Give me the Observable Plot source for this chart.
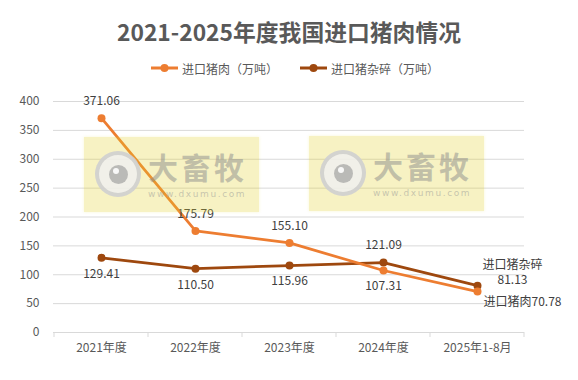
<!DOCTYPE html>
<html><head><meta charset="utf-8">
<script src="https://cdn.jsdelivr.net/npm/d3@7"></script>
<script src="https://cdn.jsdelivr.net/npm/@observablehq/plot@0.6"></script>
<style>
body{margin:0;background:#fff;font-family:"Noto Sans CJK SC","Noto Sans",sans-serif;}
#wrap{position:relative;width:578px;height:380px;overflow:hidden;background:#fff}
#title{height:46px;padding-top:10px;line-height:44px;text-align:center;font-size:22.8px;font-weight:bold;color:#595959;}
#legend{height:24px;display:flex;justify-content:center;align-items:center;font-size:12px;color:#595959;gap:22px;padding-left:12px}
#legend .item{display:flex;align-items:center;gap:4px}
#chart svg{display:block}
.wm{position:absolute;width:175px;height:75px;background:rgba(225,210,40,0.28);box-shadow:0 0 3px rgba(225,210,40,0.2);z-index:5;pointer-events:none}
.wm .ring{position:absolute;left:11px;top:14px;width:38px;height:38px;border-radius:50%;border:4px solid rgba(185,185,185,0.55);background:rgba(240,240,240,0.85)}
.wm .eye{position:absolute;left:10px;top:10px;width:19px;height:19px;border-radius:50%;background:rgba(150,150,150,0.6)}
.wm .hl{position:absolute;left:4px;top:3px;width:6px;height:6px;border-radius:50%;background:rgba(255,255,255,0.9)}
.wm .big{position:absolute;left:64px;top:14px;font-size:30px;font-weight:bold;line-height:30px;color:rgba(140,140,140,0.5);letter-spacing:3px;white-space:nowrap}
.wm .url{position:absolute;left:64px;top:52px;font-family:"DejaVu Sans",sans-serif;font-size:9px;line-height:11px;color:rgba(150,150,150,0.5);letter-spacing:1.6px;white-space:nowrap}
</style></head><body>
<div id="wrap">
  <div id="title"></div>
  <div id="legend"></div>
  <div id="chart"></div>
</div>
<script>
// ---- data ----
const chartTitle = "2021-2025年度我国进口猪肉情况";
const categories = ["2021年度", "2022年度", "2023年度", "2024年度", "2025年1-8月"];
const porkValues = [371.06, 175.79, 155.10, 107.31, 70.78];
const offalValues = [129.41, 110.50, 115.96, 121.09, 81.13];
const seriesNames = ["进口猪肉（万吨）", "进口猪杂碎（万吨）"];
const seriesShort = ["进口猪肉", "进口猪杂碎"];
const yTicks = [0, 50, 100, 150, 200, 250, 300, 350, 400];
const watermarkText = ["大畜牧", "www.dxumu.com"];

// ---- styling ----
const colors = ["#ED7D31", "#9E480E"];
const porkPlacement = ["above", "above", "above", "below", "right"];
const offalPlacement = ["below", "below", "below", "above", "stack"];
const fontFamily = '"Noto Sans CJK SC","Noto Sans",sans-serif';

document.getElementById("title").textContent = chartTitle;

// legend
const legend = document.getElementById("legend");
seriesNames.forEach((name, i) => {
  const item = document.createElement("div");
  item.className = "item";
  item.innerHTML = `<svg width="27" height="10"><line x1="0" x2="27" y1="5" y2="5" stroke="${colors[i]}" stroke-width="3"/><circle cx="13.5" cy="5" r="4" fill="${colors[i]}"/></svg><span>${name}</span>`;
  legend.appendChild(item);
});

const rows = [];
categories.forEach((c, i) => {
  rows.push({cat: c, v: porkValues[i], s: 0, place: porkPlacement[i]});
  rows.push({cat: c, v: offalValues[i], s: 1, place: offalPlacement[i]});
});
const fmt = v => v.toFixed(2);
const pork = rows.filter(d => d.s === 0);
const offal = rows.filter(d => d.s === 1);

function xAxisTicks(index, scales) {
  const x = scales.x, y = scales.y;
  const step = x(categories[1]) - x(categories[0]);
  const edges = categories.map(c => x(c) - step / 2).concat([x(categories[categories.length - 1]) + step / 2]);
  const y0 = y(0);
  const g = d3.create("svg:g").attr("stroke", "#d9d9d9").attr("stroke-width", 1);
  g.selectAll("line").data(edges).join("line")
    .attr("x1", d => d).attr("x2", d => d).attr("y1", y0).attr("y2", y0 + 5);
  return g.node();
}

const labelStyle = {fill: "#404040", fontSize: 12, fontFamily};
const plot = Plot.plot({
  width: 578,
  height: 300,
  marginTop: 21,
  marginBottom: 48,
  marginLeft: 53,
  marginRight: 54,
  style: {fontFamily, fontSize: "12px", color: "#595959", background: "transparent", overflow: "visible"},
  x: {type: "point", domain: categories, padding: 0.5, label: null, tickSize: 0, tickPadding: 11},
  y: {domain: [0, 400], ticks: yTicks, label: null, tickSize: 0, tickPadding: 14, tickFormat: d => String(d)},
  marks: [
    Plot.ruleY(yTicks, {stroke: "#d9d9d9", strokeWidth: 1}),
    xAxisTicks,
    Plot.lineY(offal, {x: "cat", y: "v", stroke: colors[1], strokeWidth: 2.75}),
    Plot.lineY(pork, {x: "cat", y: "v", stroke: colors[0], strokeWidth: 2.75}),
    Plot.dot(offal, {x: "cat", y: "v", fill: colors[1], r: 4}),
    Plot.dot(pork, {x: "cat", y: "v", fill: colors[0], r: 4}),
    Plot.text(rows.filter(d => d.place === "above"), {x: "cat", y: "v", text: d => fmt(d.v), dy: -17, ...labelStyle}),
    Plot.text(rows.filter(d => d.place === "below"), {x: "cat", y: "v", text: d => fmt(d.v), dy: 16, ...labelStyle}),
    Plot.text(rows.filter(d => d.place === "right"), {x: "cat", y: "v", text: d => seriesShort[d.s] + fmt(d.v), textAnchor: "start", dx: 6, dy: 11, ...labelStyle}),
    Plot.text(rows.filter(d => d.place === "stack"), {x: "cat", y: "v", text: d => seriesShort[d.s] + "\n" + fmt(d.v), dx: 35, dy: -14, lineHeight: 1.3, ...labelStyle})
  ]
});
document.getElementById("chart").appendChild(plot);

// watermarks (decoration)
const wrap = document.getElementById("wrap");
[[84, 137], [309, 136]].forEach(([l, t]) => {
  const w = document.createElement("div");
  w.className = "wm";
  w.style.left = l + "px";
  w.style.top = t + "px";
  w.innerHTML = `<div class="ring"><div class="eye"><div class="hl"></div></div></div><div class="big">${watermarkText[0]}</div><div class="url">${watermarkText[1]}</div>`;
  wrap.appendChild(w);
});
</script>
</body></html>
